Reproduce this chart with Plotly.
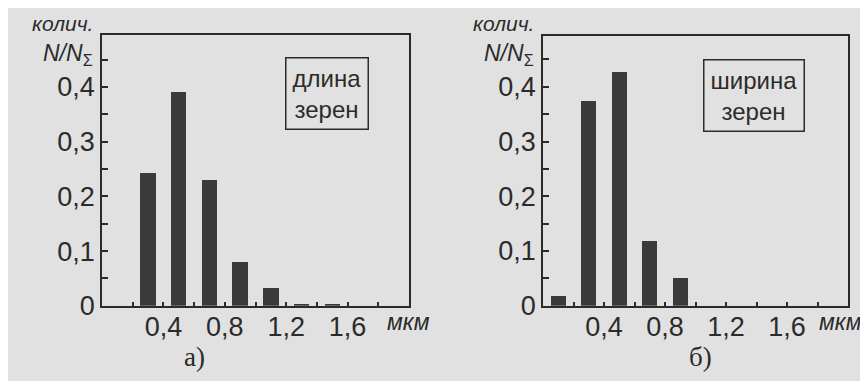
import plotly.graph_objects as go

# ---- data ----
x_len = [0.3, 0.5, 0.7, 0.9, 1.1, 1.3, 1.5]
n_len = [0.242, 0.391, 0.230, 0.081, 0.032, 0.004, 0.004]
x_wid = [0.1, 0.3, 0.5, 0.7, 0.9]
n_wid = [0.019, 0.375, 0.428, 0.118, 0.051]
x_tickvals = [0.4, 0.8, 1.2, 1.6]
x_ticktext = ["0,4", "0,8", "1,2", "1,6"]
y_tickvals = [0, 0.1, 0.2, 0.3, 0.4]
y_ticktext = ["0", "0,1", "0,2", "0,3", "0,4"]
box_a = "длина<br>зерен"
box_b = "ширина<br>зерен"

W, H = 868, 381
BG = "#e1e1e1"
INK = "#2b2b2b"
BAR = "#3a3a3a"
SANS = "Liberation Sans, Arial, sans-serif"
SERIF = "Liberation Serif, Times New Roman, serif"


def px(x):
    return x / W


def py(y):
    return 1 - y / H


fig = go.Figure()
fig.add_trace(go.Bar(x=x_len, y=n_len, width=0.1, marker=dict(color=BAR, line=dict(width=0)),
                     xaxis="x", yaxis="y", showlegend=False))
fig.add_trace(go.Bar(x=x_wid, y=n_wid, width=0.1, marker=dict(color=BAR, line=dict(width=0)),
                     xaxis="x2", yaxis="y2", showlegend=False))

common_x = dict(range=[0, 2.0], tickvals=x_tickvals, ticktext=x_ticktext,
                ticks="inside", ticklen=4, tickwidth=1.5, tickcolor=INK,
                minor=dict(dtick=0.2, tick0=0, ticks="inside", ticklen=4, tickwidth=1.5, tickcolor=INK),
                showline=True, linecolor=INK, linewidth=1.5, mirror=True,
                showgrid=False, zeroline=False, ticklabelstandoff=-4,
                tickfont=dict(family=SANS, size=27, color=INK), fixedrange=True)
common_y = dict(tickvals=y_tickvals, ticktext=y_ticktext,
                ticks="inside", ticklen=6, tickwidth=1.5, tickcolor=INK,
                minor=dict(dtick=0.05, tick0=0, ticks="inside", ticklen=6, tickwidth=1.5, tickcolor=INK),
                showline=True, linecolor=INK, linewidth=1.5, mirror=True,
                showgrid=False, zeroline=False, ticklabelstandoff=0,
                tickfont=dict(family=SANS, size=27, color=INK), fixedrange=True)

fig.update_layout(
    width=W, height=H,
    margin=dict(l=0, r=0, t=0, b=0),
    paper_bgcolor=BG, plot_bgcolor=BG,
    bargap=0,
    xaxis=dict(domain=[px(94), px(401)], anchor="y", **common_x),
    yaxis=dict(domain=[py(310), py(28)], anchor="x", range=[0, 0.495], **common_y),
    xaxis2=dict(domain=[px(535), px(840)], anchor="y2", **common_x),
    yaxis2=dict(domain=[py(310), py(29)], anchor="x2", range=[0, 0.493], **common_y),
)

ann = []
for left_shift, mkm_x, box_text, box_c, lab, lab_x in [
    (0, 400, box_a, (319, 89), "а)", 186),
    (441, 832, box_b, (746, 91), "б)", 692),
]:
    ann.append(dict(text="<i>колич.</i>", x=px(86 + left_shift), y=py(16), xref="paper", yref="paper",
                    xanchor="right", yanchor="middle", showarrow=False, borderpad=0,
                    font=dict(family=SANS, size=21, color=INK)))
    ann.append(dict(text="<i>N/N</i><sub>Σ</sub>", x=px(86 + left_shift), y=py(48), xref="paper", yref="paper",
                    xanchor="right", yanchor="middle", showarrow=False, borderpad=0,
                    font=dict(family=SANS, size=23, color=INK)))
    ann.append(dict(text="<i>мкм</i>", x=px(mkm_x), y=py(327), xref="paper", yref="paper",
                    xanchor="center", yanchor="middle", showarrow=False,
                    font=dict(family=SANS, size=23, color=INK)))
    ann.append(dict(text=box_text, x=px(box_c[0]), y=py(box_c[1]), xref="paper", yref="paper",
                    xanchor="center", yanchor="middle", showarrow=False, align="center",
                    bordercolor=INK, borderwidth=1.5, borderpad=6, bgcolor=BG,
                    font=dict(family=SANS, size=24, color=INK)))
    ann.append(dict(text=lab, x=px(lab_x), y=py(363), xref="paper", yref="paper",
                    xanchor="center", yanchor="middle", showarrow=False,
                    font=dict(family=SERIF, size=27, color=INK)))

fig.update_layout(annotations=ann)
fig.write_html("out.html")
